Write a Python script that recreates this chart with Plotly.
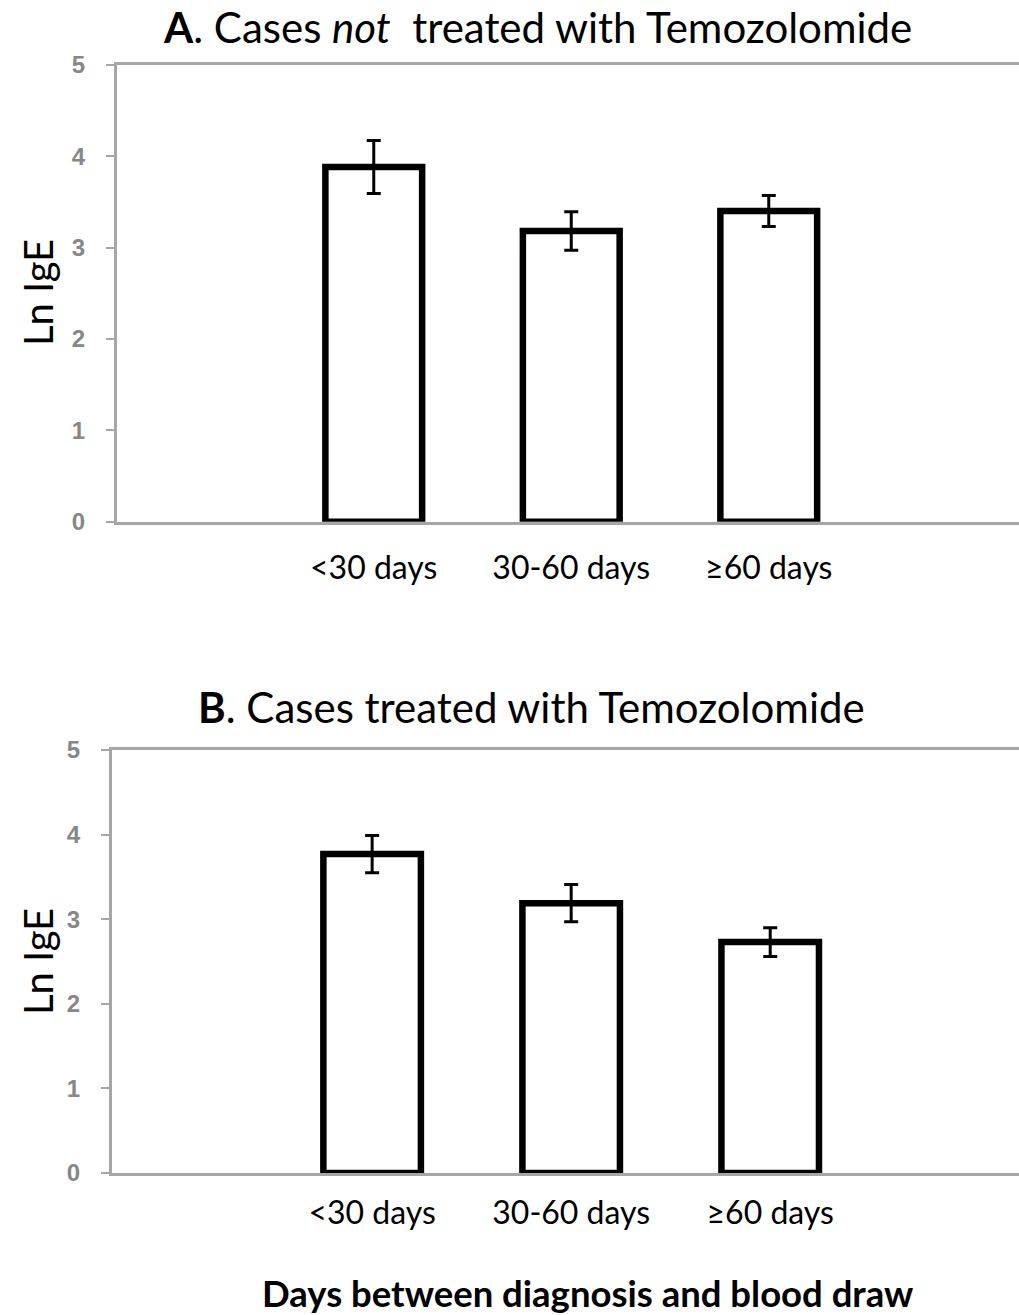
import plotly.graph_objects as go

categories = ["<30 days", "30-60 days", "≥60 days"]
values_a = [3.88, 3.18, 3.40]
errors_a = [0.29, 0.21, 0.17]
values_b = [3.77, 3.19, 2.73]
errors_b = [0.22, 0.22, 0.17]
y_ticks = [0, 1, 2, 3, 4, 5]

W, H = 1019, 1315
FONT = "Lato"
AXIS_GRAY = "#A6A6A6"
TICK_GRAY = "#878787"

fig = go.Figure()

def add_bars(vals, errs, xa, ya):
    fig.add_trace(go.Bar(
        x=categories, y=vals, xaxis=xa, yaxis=ya, width=0.49,
        marker=dict(color="white", line=dict(color="black", width=6.5)),
        error_y=dict(type="data", array=errs, visible=True, color="black",
                     thickness=3, width=7),
        showlegend=False,
    ))

add_bars(values_a, errors_a, "x", "y")
add_bars(values_b, errors_b, "x2", "y2")

def px_x(p):
    return p / W

def px_y(p):
    return 1 - p / H

xcommon = dict(type="category", showline=True, linecolor=AXIS_GRAY, linewidth=3,
               mirror=True, ticks="", showgrid=False, zeroline=False,
               automargin=False,
               tickfont=dict(family=FONT, size=32, color="black"))
ycommon = dict(showline=True, linecolor=AXIS_GRAY, linewidth=3, ticks="outside",
               ticklen=8, tickwidth=1.5, tickcolor=AXIS_GRAY, showgrid=False,
               zeroline=False, tickvals=y_ticks, automargin=False,
               tickfont=dict(family="Liberation Sans", size=24, color=TICK_GRAY,
                             weight="bold"))

fig.update_layout(
    template="none",
    width=W, height=H, margin=dict(l=0, r=0, t=0, b=0, pad=0),
    paper_bgcolor="white", plot_bgcolor="white",
    xaxis=dict(xcommon, domain=[px_x(117), 1], range=[-1.30, 3.267],
               anchor="y", ticklabelstandoff=16),
    yaxis=dict(ycommon, domain=[px_y(521.7), px_y(64.7)], range=[0, 5],
               anchor="x", ticklabelstandoff=16),
    xaxis2=dict(xcommon, domain=[px_x(112), 1], range=[-1.307, 3.25],
                anchor="y2", ticklabelstandoff=10),
    yaxis2=dict(ycommon, domain=[px_y(1173), px_y(750)], range=[0, 5],
                anchor="x2", ticklabelstandoff=16),
    bargap=0.5,
)

ann = [
    dict(text="<b>A</b>. Cases <i>not</i>  treated with Temozolomide",
         x=px_x(537), y=px_y(27), size=42),
    dict(text="<b>B</b>. Cases treated with Temozolomide",
         x=px_x(531), y=px_y(707), size=42),
    dict(text="<b>Days between diagnosis and blood draw</b>",
         x=px_x(587), y=px_y(1293), size=36.5),
]
for a in ann:
    size = a.pop("size")
    fig.add_annotation(xref="paper", yref="paper", showarrow=False,
                       xanchor="center", yanchor="middle",
                       font=dict(family=FONT, size=size, color="black"), **a)

for yc in (293, 962):
    fig.add_annotation(text="Ln IgE", xref="paper", yref="paper",
                       x=px_x(38), y=px_y(yc), showarrow=False, textangle=-90,
                       xanchor="center", yanchor="middle",
                       font=dict(family=FONT, size=40, color="black"))

fig.write_html(
    "out.html",
    config={"displayModeBar": False},
    post_script="document.body.style.margin='0';document.body.style.overflow='hidden';",
)
